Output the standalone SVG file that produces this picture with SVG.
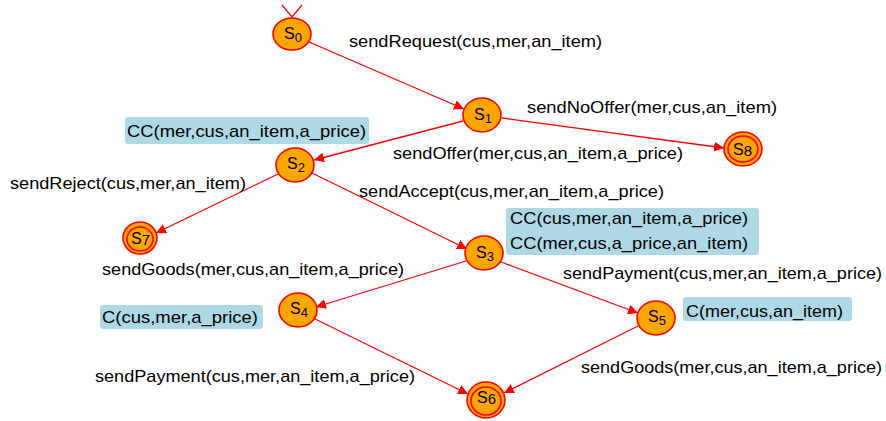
<svg xmlns="http://www.w3.org/2000/svg" width="886" height="421" viewBox="0 0 886 421">
<defs>
<style>
.st{fill:#FFA500;stroke:#FF0000;stroke-width:1.6}
.in{fill:none;stroke:#FF0000;stroke-width:1.6}
.lb{font-family:"Liberation Sans",Arial,sans-serif;font-size:16px;fill:#000}
.tx{font-family:"Liberation Sans",Arial,sans-serif;font-size:17px;fill:#000}
.e{fill:none;stroke:#FF0000;stroke-width:1.3;marker-end:url(#ah)}
.box{fill:#ADD8E6}
</style>
<marker id="ah" viewBox="0 0 10 10" refX="10" refY="5" markerWidth="10" markerHeight="10" markerUnits="userSpaceOnUse" orient="auto">
<path d="M0,0 L10,5 L0,10 z" fill="#FF0000"/>
</marker>
</defs>
<rect width="886" height="421" fill="#fff"/>
<g id="connectors">
<path d="M282,5 L292,17 L302,5" fill="none" stroke="#FF0000" stroke-width="1.3"/>
<path class="e" d="M309,42 L464,109"/>
<path class="e" d="M502,118 L724,148"/>
<path class="e" d="M463,121 L314,160"/>
<path class="e" d="M278,174 L156,233"/>
<path class="e" d="M312,173 L467,249"/>
<path class="e" d="M466,261 L316,307"/>
<path class="e" d="M501,262 L638,313"/>
<path class="e" d="M313,318 L468,394"/>
<path class="e" d="M638,326 L504,393"/>
</g>
<g id="S0"><ellipse class="st" cx="292" cy="34" rx="19" ry="16"/><text class="lb" x="284" y="39">S<tspan font-size="13" dy="3">0</tspan></text></g>
<g id="S1"><ellipse class="st" cx="482" cy="115" rx="19" ry="17"/><text class="lb" x="474" y="120">S<tspan font-size="13" dy="3">1</tspan></text></g>
<g id="S8"><ellipse class="st" cx="743" cy="149" rx="19" ry="17"/><ellipse class="in" cx="743" cy="149" rx="15" ry="13"/><text class="lb" x="733" y="155">S<tspan font-size="15" dy="1">8</tspan></text></g>
<g id="S2"><ellipse class="st" cx="295" cy="165" rx="19" ry="17"/><text class="lb" x="287" y="169">S<tspan font-size="13" dy="3">2</tspan></text></g>
<g id="S7"><ellipse class="st" cx="140" cy="238" rx="17" ry="16"/><ellipse class="in" cx="140" cy="239" rx="13" ry="12"/><text class="lb" x="131" y="244">S<tspan font-size="15" dy="1">7</tspan></text></g>
<g id="S3"><ellipse class="st" cx="484" cy="253" rx="19" ry="17"/><text class="lb" x="476" y="258">S<tspan font-size="13" dy="3">3</tspan></text></g>
<g id="S4"><ellipse class="st" cx="298" cy="310" rx="19" ry="17"/><text class="lb" x="290" y="314">S<tspan font-size="13" dy="3">4</tspan></text></g>
<g id="S5"><ellipse class="st" cx="656" cy="318" rx="19" ry="17"/><text class="lb" x="648" y="322">S<tspan font-size="13" dy="3">5</tspan></text></g>
<g id="S6"><ellipse class="st" cx="486" cy="400" rx="19" ry="18"/><ellipse class="in" cx="486" cy="401" rx="15" ry="14"/><text class="lb" x="477" y="403">S<tspan font-size="15" dy="1">6</tspan></text></g>
<g id="labels">
<text class="tx" x="349" y="47" textLength="253" lengthAdjust="spacingAndGlyphs">sendRequest(cus,mer,an_item)</text>
<text class="tx" x="527" y="113" textLength="250" lengthAdjust="spacingAndGlyphs">sendNoOffer(mer,cus,an_item)</text>
<text class="tx" x="393" y="159" textLength="290" lengthAdjust="spacingAndGlyphs">sendOffer(mer,cus,an_item,a_price)</text>
<text class="tx" x="10" y="189" textLength="236" lengthAdjust="spacingAndGlyphs">sendReject(cus,mer,an_item)</text>
<text class="tx" x="359" y="197" textLength="305" lengthAdjust="spacingAndGlyphs">sendAccept(cus,mer,an_item,a_price)</text>
<text class="tx" x="102" y="275" textLength="302" lengthAdjust="spacingAndGlyphs">sendGoods(mer,cus,an_item,a_price)</text>
<text class="tx" x="563" y="279" textLength="319" lengthAdjust="spacingAndGlyphs">sendPayment(cus,mer,an_item,a_price)</text>
<text class="tx" x="95" y="382" textLength="320" lengthAdjust="spacingAndGlyphs">sendPayment(cus,mer,an_item,a_price)</text>
<text class="tx" x="581" y="373" textLength="301" lengthAdjust="spacingAndGlyphs">sendGoods(mer,cus,an_item,a_price)</text>
</g>
<g id="conditions">
<rect class="box" x="125" y="117" width="244" height="27" rx="3"/>
<text class="tx" x="127" y="137" textLength="239" lengthAdjust="spacingAndGlyphs">CC(mer,cus,an_item,a_price)</text>
<rect class="box" x="506" y="208" width="253" height="47" rx="3"/>
<text class="tx" x="510" y="224" textLength="238" lengthAdjust="spacingAndGlyphs">CC(cus,mer,an_item,a_price)</text>
<text class="tx" x="510" y="249" textLength="238" lengthAdjust="spacingAndGlyphs">CC(mer,cus,a_price,an_item)</text>
<rect class="box" x="100" y="305" width="163" height="24" rx="3"/>
<text class="tx" x="102" y="323" textLength="156" lengthAdjust="spacingAndGlyphs">C(cus,mer,a_price)</text>
<rect class="box" x="683" y="297" width="169" height="24" rx="3"/>
<text class="tx" x="686" y="317" textLength="157" lengthAdjust="spacingAndGlyphs">C(mer,cus,an_item)</text>
</g>
</svg>
